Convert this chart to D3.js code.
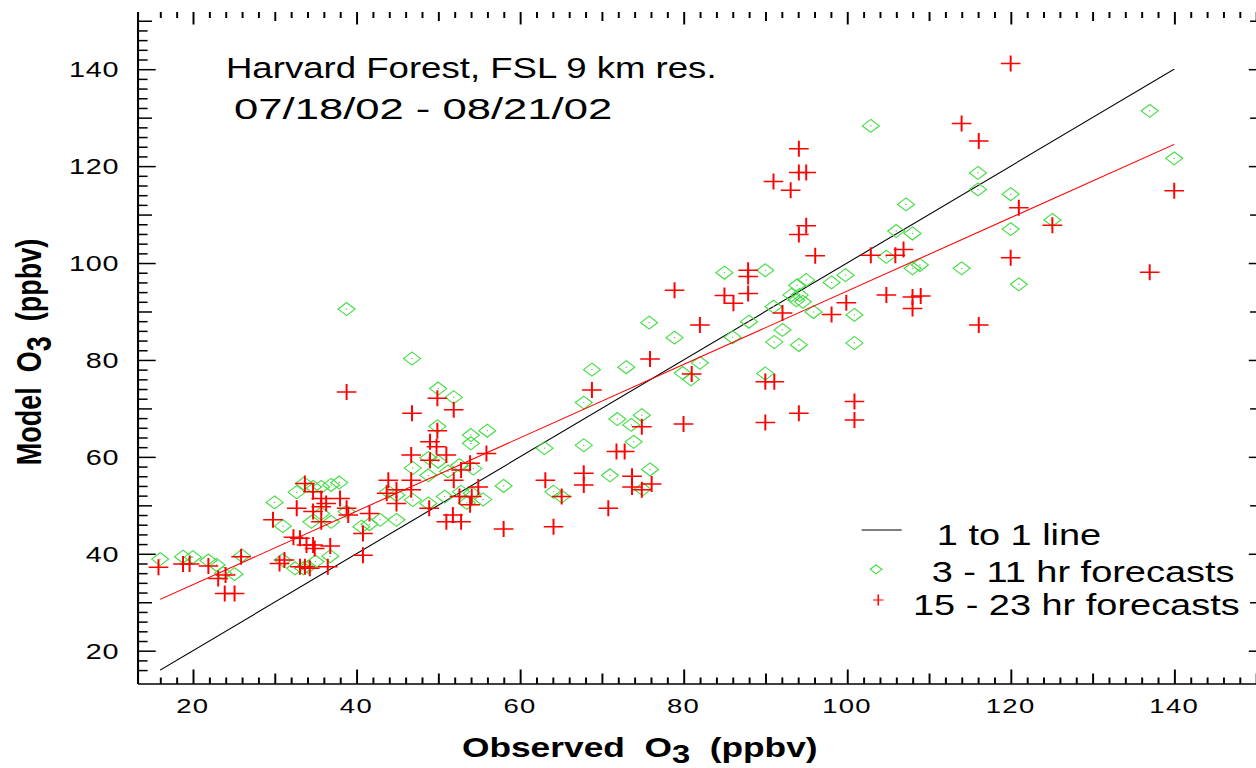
<!DOCTYPE html>
<html><head><meta charset="utf-8">
<script src="https://cdn.jsdelivr.net/npm/d3@7"></script>
<style>
html,body{margin:0;padding:0;background:#fff;}
svg{display:block;}
text{font-family:"Liberation Sans",Arial,Helvetica,sans-serif;fill:#000;white-space:pre;}
</style></head><body>
<svg id="chart" width="1256" height="768"></svg>
<script>
// ---------------- data ----------------
const titleLines = ["Harvard Forest, FSL 9 km res.", "07/18/02 - 08/21/02"];
const xTitleParts = ["Observed  O", "3", "  (ppbv)"];
const yTitleParts = ["Model  O", "3", "  (ppbv)"];
const legendLabels = ["1 to 1 line", "3 - 11 hr forecasts", "15 - 23 hr forecasts"];
const xTickLabels = [20, 40, 60, 80, 100, 120, 140];
const yTickLabels = [20, 40, 60, 80, 100, 120, 140];

const oneToOneX = [16, 140];
const oneToOneY = [16, 140];
const fitX = [16, 140];
const fitY = [30.6, 124.5];

// [observed, model] for 3 - 11 hr forecasts (diamonds)
const forecast3to11 = [
 [16.0,38.9],[18.8,39.4],[20.0,39.3],[21.9,38.6],[22.9,37.7],[23.7,36.0],[25.1,35.8],[26.0,39.6],
 [30.0,50.6],[31.0,45.7],[32.7,52.7],[33.6,54.5],[34.7,53.8],[35.7,53.8],[36.9,54.2],[37.9,54.7],
 [34.5,46.6],[35.7,48.3],[36.9,46.6],[38.8,48.7],[31.0,38.7],[32.5,37.0],[33.5,37.0],[34.1,37.3],
 [35.0,38.4],[36.8,39.5],[40.6,45.6],[41.6,46.1],[42.9,47.0],[43.9,52.8],[44.9,47.0],[38.8,90.5],
 [46.8,80.3],[50.0,74.1],[51.9,72.3],[49.9,66.3],[54.0,64.5],[56.0,65.4],[54.0,62.8],[48.8,59.8],
 [50.0,59.0],[46.9,57.7],[48.8,56.2],[52.6,58.3],[54.3,57.6],[58.0,54.0],[44.9,52.1],[46.9,51.1],
 [48.8,50.4],[50.8,51.8],[52.8,52.8],[54.1,52.5],[51.2,57.0],[53.5,50.5],[55.5,51.2],
 [64.1,52.8],[65.1,51.8],[63.0,61.8],[67.8,62.4],[67.8,71.2],[68.8,78.0],[73.0,78.5],[71.9,67.8],
 [73.6,66.6],[73.9,63.1],[71.0,56.2],[74.9,68.6],[75.9,57.4],[75.0,53.3],[75.8,87.7],[78.9,84.6],
 [79.9,77.3],[82.0,79.4],[80.9,76.0],[85.0,98.0],[90.0,98.5],[86.0,84.7],[88.0,87.9],[91.0,91.0],
 [92.1,86.2],[91.1,83.7],[94.1,83.1],[93.9,95.4],[95.0,96.5],[94.2,93.4],[93.2,93.4],[94.6,92.0],
 [93.8,92.3],[95.9,89.9],[90.0,77.2],[102.9,128.3],[116.0,118.6],[116.0,115.2],[107.2,112.1],
 [106.0,106.6],[108.0,106.1],[104.8,101.3],[108.0,98.9],[108.9,99.6],[114.0,98.9],[98.1,96.0],
 [99.8,97.5],[100.9,89.3],[100.9,83.5],[137.0,131.4],[140.0,121.6],[120.0,114.2],[120.0,107.0],
 [125.1,108.9],[121.0,95.6]
];

// [observed, model] for 15 - 23 hr forecasts (crosses)
const forecast15to23 = [
 [15.8,37.2],[18.8,37.9],[19.6,37.9],[21.9,37.5],[23.1,34.9],[24.0,35.6],[23.9,31.8],[25.1,31.8],
 [25.9,39.4],[29.8,47.0],[32.7,49.4],[32.3,43.4],[33.1,43.2],[33.9,41.8],[34.7,41.8],[34.9,41.1],
 [36.8,41.6],[30.6,38.0],[31.2,38.7],[33.1,37.3],[33.7,37.3],[34.3,37.0],[36.5,37.3],[33.7,54.5],
 [34.7,52.8],[35.7,51.4],[36.3,50.4],[35.7,49.7],[35.7,46.6],[34.7,48.7],[38.0,51.4],[38.8,49.4],
 [39.0,48.0],[40.8,44.2],[40.8,39.7],[41.6,48.3],[43.9,55.2],[43.7,52.5],[44.9,53.2],[44.9,50.4],
 [38.8,73.4],[49.9,72.1],[51.9,69.7],[46.8,69.0],[49.9,65.4],[49.0,63.1],[49.8,62.1],[51.0,60.4],
 [46.7,60.4],[49.0,59.3],[55.9,60.7],[46.7,55.2],[46.7,53.2],[51.9,55.2],[52.8,57.3],[53.9,58.7],
 [48.9,49.4],[51.0,46.6],[51.8,48.0],[52.8,46.6],[53.9,50.1],[54.1,51.8],[54.9,53.8],[52.6,51.8],
 [58.0,45.1],[63.1,55.2],[65.1,51.8],[64.1,45.6],[67.8,56.6],[67.8,54.2],[70.8,49.4],[71.8,61.1],
 [72.8,61.1],[68.8,73.8],[73.7,56.0],[73.7,53.8],[76.1,54.4],[74.9,53.2],[74.9,66.2],[80.0,66.8],
 [75.9,80.2],[81.0,77.1],[78.9,94.4],[82.0,87.2],[85.0,93.3],[86.1,91.7],[87.9,98.5],[87.9,97.2],
 [87.9,93.7],[92.1,89.7],[90.0,75.5],[91.1,75.5],[90.0,67.1],[94.1,69.0],[94.1,123.6],[94.1,118.7],
 [95.0,118.7],[91.0,116.8],[93.1,115.0],[95.0,107.7],[94.1,105.9],[96.1,101.5],[99.9,91.8],[98.1,89.4],
 [100.9,71.4],[100.9,67.6],[102.9,101.6],[105.9,101.6],[106.9,102.8],[104.8,93.4],[108.0,93.0],
 [109.0,93.2],[108.0,90.6],[116.1,87.2],[114.0,128.8],[116.1,125.2],[120.0,141.2],[121.0,111.4],
 [125.1,107.8],[120.0,101.1],[137.0,98.1],[140.0,114.9]
];

// ---------------- layout ----------------
const W = 1256, H = 768;
const SX = W / 960;               // the picture is horizontally stretched
const svg = d3.select("#chart");
svg.append("rect").attr("width", W).attr("height", H).attr("fill", "#fff");
const g = svg.append("g").attr("transform", `scale(${SX},1)`);

const x = d3.scaleLinear().domain([20, 140]).range([147.4, 897.5]);
const y = d3.scaleLinear().domain([20, 140]).range([650.7, 69.2]);
const frameL = 105.5, frameR = 968, frameT = 12, frameB = 684;

const tickAll = d3.range(16, 151, 2);
const major = tickAll.filter(v => v % 20 === 0);
const medium = tickAll.filter(v => v % 10 === 0 && v % 20 !== 0);
const minor = tickAll.filter(v => v % 10 !== 0);

function drawTicks(axisFn, scale, transform, sizes) {
  const groups = [[major, sizes[0]], [medium, sizes[1]], [minor, sizes[2]]];
  groups.forEach(([vals, sz]) => {
    const a = g.append("g").attr("transform", transform)
      .call(axisFn(scale).tickValues(vals).tickSizeInner(sz).tickSizeOuter(0).tickFormat(""));
    a.select(".domain").remove();
    a.selectAll(".tick line").attr("stroke", "#000").attr("stroke-width", 1.5);
  });
}
// bottom, top, left, right ticks (pointing inward)
drawTicks(d3.axisBottom, x, `translate(0,${frameB})`, [-14.5, -10.5, -6.5]);
drawTicks(d3.axisTop, x, `translate(0,${frameT})`, [-12.5, -9, -6]);
drawTicks(d3.axisLeft, y, `translate(${frameL},0)`, [-13.5, -10.7, -7.3]);
drawTicks(d3.axisRight, y, `translate(${frameR},0)`, [-13.5, -12.5, -7.3]);

// axis lines (bottom, left, right)
g.append("line").attr("x1", frameL).attr("x2", frameR + 2).attr("y1", frameB).attr("y2", frameB)
  .attr("stroke", "#000").attr("stroke-width", 1.6);
g.append("line").attr("x1", frameL).attr("x2", frameL).attr("y1", frameT).attr("y2", frameB)
  .attr("stroke", "#000").attr("stroke-width", 1.6);
g.append("line").attr("x1", frameR).attr("x2", frameR).attr("y1", frameT).attr("y2", frameB)
  .attr("stroke", "#000").attr("stroke-width", 1.6);

// tick labels
g.append("g").selectAll("text").data(xTickLabels).join("text")
  .attr("x", d => x(d)).attr("y", 713)
  .attr("text-anchor", "middle").attr("font-size", 21).attr("letter-spacing", 1)
  .text(d => d);
g.append("g").selectAll("text").data(yTickLabels).join("text")
  .attr("x", 91).attr("y", d => y(d) + 8)
  .attr("text-anchor", "end").attr("font-size", 22).attr("letter-spacing", 0.5)
  .text(d => d);

// titles
g.append("text").attr("x", 172.7).attr("y", 78).attr("font-size", 29)
  .attr("textLength", 375).attr("lengthAdjust", "spacingAndGlyphs").text(titleLines[0]);
g.append("text").attr("x", 178.9).attr("y", 119).attr("font-size", 29)
  .attr("textLength", 289).attr("lengthAdjust", "spacingAndGlyphs").text(titleLines[1]);

// axis titles
const xt = g.append("text").attr("x", 489).attr("y", 757).attr("text-anchor", "middle")
  .attr("font-size", 27).attr("font-weight", "bold");
xt.append("tspan").text(xTitleParts[0]);
xt.append("tspan").attr("dy", 6).attr("font-size", 25).text(xTitleParts[1]);
xt.append("tspan").attr("dy", -6).text(xTitleParts[2]);

const yt = g.append("text").attr("transform", "translate(31,352) rotate(-90)")
  .attr("text-anchor", "middle").attr("font-size", 27).attr("font-weight", "bold");
yt.append("tspan").text(yTitleParts[0]);
yt.append("tspan").attr("dy", 8).text(yTitleParts[1]);
yt.append("tspan").attr("dy", -8).text(yTitleParts[2]);

// ---------------- marks ----------------
const line = d3.line().x(d => x(d[0])).y(d => y(d[1]));
g.append("path").datum(d3.zip(oneToOneX, oneToOneY)).attr("d", line)
  .attr("fill", "none").attr("stroke", "#000").attr("stroke-width", 1);

const GREEN = "#44dd44", RED = "#ff0000";
const diamondPath = r => `M0,${-r}L${r},0L0,${r}L${-r},0Z`;
const crossPath = (a, b) => `M${-a},0H${a}M0,${-b}V${b}`;

const dg = g.append("g").selectAll("g").data(forecast3to11).join("g")
  .attr("transform", d => `translate(${x(d[0])},${y(d[1])})`);
dg.append("path").attr("d", diamondPath(6.5)).attr("fill", "none")
  .attr("stroke", GREEN).attr("stroke-width", 1);
dg.append("rect").attr("x", -0.5).attr("y", -0.5).attr("width", 1).attr("height", 1).attr("fill", "#66aa66");

g.append("g").selectAll("path").data(forecast15to23).join("path")
  .attr("transform", d => `translate(${x(d[0])},${y(d[1])})`)
  .attr("d", crossPath(7.5, 8)).attr("fill", "none")
  .attr("stroke", RED).attr("stroke-width", 1.5);

g.append("path").datum(d3.zip(fitX, fitY)).attr("d", line)
  .attr("fill", "none").attr("stroke", RED).attr("stroke-width", 1);

// ---------------- legend ----------------
const lg = g.append("g");
lg.append("line").attr("x1", 658.6).attr("x2", 689.2).attr("y1", 530).attr("y2", 530)
  .attr("stroke", "#000").attr("stroke-width", 1);
lg.append("path").attr("transform", "translate(669.6,569.3)").attr("d", diamondPath(4.5))
  .attr("fill", "none").attr("stroke", GREEN).attr("stroke-width", 1);
lg.append("path").attr("transform", "translate(671.3,600)").attr("d", crossPath(4, 5.5))
  .attr("fill", "none").attr("stroke", RED).attr("stroke-width", 1.2);
const legX = [716, 712.1, 697.8], legY = [545, 581.7, 615];
lg.selectAll("text").data(legendLabels).join("text")
  .attr("x", (d, i) => legX[i]).attr("y", (d, i) => legY[i])
  .attr("font-size", 29).text(d => d);
</script>
</body></html>
